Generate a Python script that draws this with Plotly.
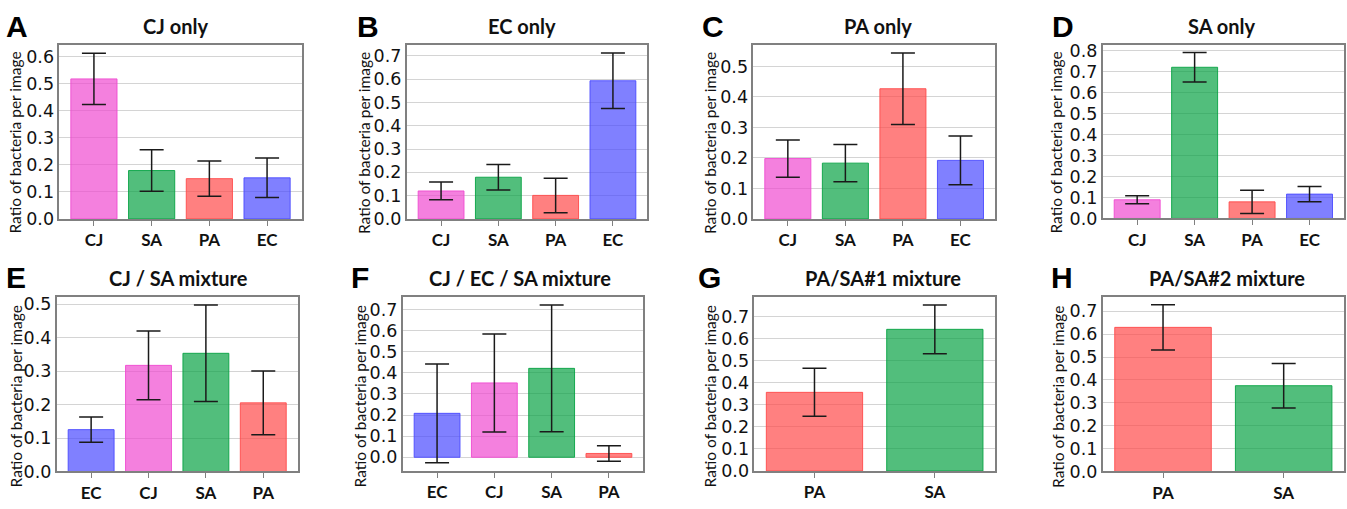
import plotly.graph_objects as go

W, H = 1347, 509

# ---------------- data ----------------
titles = ["CJ only", "EC only", "PA only", "SA only",
          "CJ / SA mixture", "CJ / EC / SA mixture", "PA/SA#1 mixture", "PA/SA#2 mixture"]
letters = ["A", "B", "C", "D", "E", "F", "G", "H"]

cats_A = ["CJ", "SA", "PA", "EC"]
vals_A = [0.518, 0.179, 0.149, 0.152]
err_A = [0.095, 0.077, 0.065, 0.073]

cats_B = ["CJ", "SA", "PA", "EC"]
vals_B = [0.120, 0.179, 0.101, 0.593]
err_B = [0.038, 0.055, 0.074, 0.119]

cats_C = ["CJ", "SA", "PA", "EC"]
vals_C = [0.198, 0.183, 0.427, 0.192]
err_C = [0.061, 0.061, 0.117, 0.080]

cats_D = ["CJ", "SA", "PA", "EC"]
vals_D = [0.089, 0.721, 0.079, 0.116]
err_D = [0.019, 0.070, 0.056, 0.036]

cats_E = ["EC", "CJ", "SA", "PA"]
vals_E = [0.125, 0.317, 0.353, 0.205]
err_E = [0.038, 0.103, 0.144, 0.095]

cats_F = ["EC", "CJ", "SA", "PA"]
vals_F = [0.208, 0.352, 0.421, 0.018]
err_F = [0.234, 0.232, 0.300, 0.037]

cats_G = ["PA", "SA"]
vals_G = [0.357, 0.643]
err_G = [0.109, 0.111]

cats_H = ["PA", "SA"]
vals_H = [0.630, 0.375]
err_H = [0.099, 0.097]

panels = [(cats_A, vals_A, err_A), (cats_B, vals_B, err_B), (cats_C, vals_C, err_C),
          (cats_D, vals_D, err_D), (cats_E, vals_E, err_E), (cats_F, vals_F, err_F),
          (cats_G, vals_G, err_G), (cats_H, vals_H, err_H)]

y_ranges = [[0, 0.643], [0, 0.746], [0, 0.570], [0, 0.828],
            [0, 0.520], [-0.065, 0.757], [0, 0.788], [0, 0.761]]

# ---------------- styles ----------------
fill = {"CJ": "rgba(239,74,208,0.7)", "SA": "rgba(8,163,68,0.7)",
        "PA": "rgba(255,74,74,0.7)", "EC": "rgba(74,74,255,0.7)"}
edge = {"CJ": "rgba(239,74,208,0.9)", "SA": "rgba(8,163,68,0.9)",
        "PA": "rgba(255,74,74,0.9)", "EC": "rgba(74,74,255,0.9)"}

# pixel boxes (left, right, top, bottom)
boxes = [(59.3, 301.7, 42.3, 221.0), (406.7, 647.3, 42.3, 221.0),
         (753.3, 995.0, 42.3, 221.0), (1102.7, 1344.0, 42.0, 220.5),
         (56.7, 297.7, 301.7, 480.7), (402.7, 643.3, 301.7, 480.2),
         (754.3, 995.0, 301.7, 480.2), (1102.7, 1344.0, 301.7, 480.7)]

title_pos = [(175, 23), (521.7, 23), (878, 23), (1221.7, 23),
             (178, 281.7), (520, 281.7), (882.7, 281.7), (1226.7, 281.7)]
letter_pos = [(17.3, 23), (368, 23), (712.7, 23), (1063.3, 23),
              (16, 281.7), (360, 281.7), (709.3, 281.7), (1061.7, 281.7)]
ylab_pos = [(15.5, 143), (364, 143), (710, 143), (1056.5, 143),
            (15.5, 404), (359.5, 404), (709.5, 404), (1058, 404)]

fig = go.Figure()
annotations = []
layout = {}

for i, ((cats, vals, errs), (l, r, t, b)) in enumerate(zip(panels, boxes)):
    n = i + 1
    xa = "x" if n == 1 else f"x{n}"
    ya = "y" if n == 1 else f"y{n}"
    fig.add_trace(go.Bar(
        x=cats, y=vals, xaxis=xa, yaxis=ya, width=0.8,
        marker=dict(color=[fill[c] for c in cats],
                    line=dict(color=[edge[c] for c in cats], width=1)),
        error_y=dict(type="data", array=errs, visible=True,
                     color="#1a1a1a", thickness=1.5, width=12),
        showlegend=False, hoverinfo="skip"))
    xr = [-0.6, len(cats) - 0.4] if len(cats) == 4 else [-0.5, 1.5]
    xkey = "xaxis" if n == 1 else f"xaxis{n}"
    ykey = "yaxis" if n == 1 else f"yaxis{n}"
    layout[xkey] = dict(
        domain=[l / W, r / W], anchor=ya, range=xr, type="category",
        showgrid=False, showline=True, mirror=True, linecolor="#808080", linewidth=1.5,
        ticks="outside", ticklen=5, tickcolor="#808080", tickwidth=1,
        tickfont=dict(family="Lato", size=17, color="#111", weight="bold"),
        fixedrange=True)
    layout[ykey] = dict(
        domain=[1 - b / H, 1 - t / H], anchor=xa, range=y_ranges[i],
        dtick=0.1, tick0=0, tickformat=".1f",
        showgrid=True, gridcolor="#d4d4d4", gridwidth=1, zeroline=False,
        showline=True, mirror=True, linecolor="#808080", linewidth=1.5,
        ticks="", tickfont=dict(family="DejaVu Sans", size=17.5, color="#111"),
        fixedrange=True)

    tx, ty = title_pos[i]
    annotations.append(dict(text=titles[i], x=tx / W, y=1 - ty / H, xref="paper", yref="paper",
                            showarrow=False, xanchor="center", yanchor="middle",
                            font=dict(family="Lato", size=20, color="#111", weight="bold")))
    lx, ly = letter_pos[i]
    annotations.append(dict(text=letters[i], x=lx / W, y=1 - ly / H, xref="paper", yref="paper",
                            showarrow=False, xanchor="center", yanchor="middle",
                            font=dict(family="Liberation Sans", size=30, color="#000", weight="bold")))
    gx, gy = ylab_pos[i]
    annotations.append(dict(text="Ratio of bacteria per image", x=gx / W, y=1 - gy / H,
                            xref="paper", yref="paper", textangle=-90,
                            showarrow=False, xanchor="center", yanchor="middle",
                            font=dict(family="Lato", size=15.5, color="#111")))

fig.update_layout(width=W, height=H, margin=dict(l=0, r=0, t=0, b=0),
                  paper_bgcolor="white", plot_bgcolor="white",
                  bargap=0.2, annotations=annotations, **layout)

fig.write_html("out.html", config={"displayModeBar": False})
